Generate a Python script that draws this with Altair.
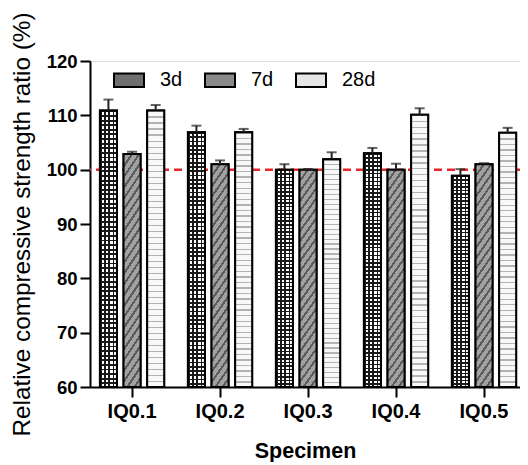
import altair as alt
import pandas as pd

specimens = ["IQ0.1", "IQ0.2", "IQ0.3", "IQ0.4", "IQ0.5"]
ages = ["3d", "7d", "28d"]
ratio_3d = [110.9, 106.9, 100.0, 103.0, 98.9]
ratio_7d = [102.9, 101.0, 100.0, 100.0, 101.0]
ratio_28d = [110.9, 106.9, 101.9, 110.1, 106.8]
err_3d = [2.0, 1.2, 1.0, 1.0, 1.2]
err_7d = [0.4, 0.7, 0.1, 1.1, 0.2]
err_28d = [1.0, 0.6, 1.3, 1.2, 0.9]
reference_level = [100]

rows = []
for age, vals, errs in [("3d", ratio_3d, err_3d), ("7d", ratio_7d, err_7d), ("28d", ratio_28d, err_28d)]:
    for s, v, e in zip(specimens, vals, errs):
        rows.append({"Specimen": s, "Age": age, "ratio": v, "top": v + e})
df = pd.DataFrame(rows)
ref_df = pd.DataFrame({"y": reference_level})

FONT = "Liberation Sans"


def stripes(n, frac, color_a, color_b, x2, y2):
    """Hard-edged repeating linear gradient used as a fill texture."""
    stops = []
    for k in range(n):
        s = k / n
        m = (k + frac) / n
        e = (k + 1) / n
        stops += [
            {"offset": round(s, 5), "color": color_a},
            {"offset": round(m, 5), "color": color_a},
            {"offset": round(m, 5), "color": color_b},
            {"offset": round(min(e, 1.0), 5), "color": color_b},
        ]
    return {"gradient": "linear", "x1": 0, "y1": 0, "x2": x2, "y2": y2, "stops": stops}


# bar textures
tex_3d_rows = stripes(60, 0.42, "#1a1a1a", "#ffffff", 0, 1)
tex_3d_cols = stripes(4, 0.40, "#1a1a1a", "rgba(0,0,0,0)", 1, 0)
tex_7d = stripes(24, 0.35, "#5c5c5c", "#a2a2a2", 0.1197, 1.0956)
tex_28d = stripes(46, 0.24, "#b3b3b3", "#f8f8f8", 0, 1)

x_enc = alt.X("Specimen:N", sort=specimens,
              scale=alt.Scale(paddingInner=0.27, paddingOuter=0.0784, align=0.72),
              axis=alt.Axis(title="Specimen", labelAngle=0, labelFontSize=20,
                            labelFontWeight="bold", titleFontSize=21.5,
                            titleFontWeight="bold", titlePadding=19,
                            labelPadding=4, tickSize=10, tickWidth=2,
                            domainWidth=2, domainColor="black", tickColor="black",
                            labelColor="black", titleColor="black",
                            labelFont=FONT, titleFont=FONT))
xoff = alt.XOffset("Age:N", sort=ages, scale=alt.Scale(paddingInner=0.28, paddingOuter=0))

y_scale = alt.Scale(domain=[60, 120], nice=False, zero=False)
y_axis = alt.Axis(title="Relative compressive strength ratio (%)", values=[60, 70, 80, 90, 100, 110, 120],
                  labelFontSize=18.5, labelFontWeight="bold", titleFontSize=24.3,
                  titleFontWeight="normal", titlePadding=12, labelPadding=3,
                  tickSize=10, tickWidth=2, domainWidth=2, domainColor="black",
                  tickColor="black", labelColor="black", titleColor="black",
                  grid=False, labelFont=FONT, titleFont=FONT)
y_bar = alt.Y("ratio:Q", scale=y_scale, axis=y_axis)

refline = alt.Chart(ref_df).mark_rule(color="#e8262b", strokeWidth=2.5, strokeDash=[8, 5]).encode(
    y=alt.Y("y:Q", scale=y_scale, axis=y_axis)
)

legend = alt.Legend(
    title=None, orient="none", legendX=23, legendY=3, direction="horizontal",
    symbolType="M-1,-0.45L1,-0.45L1,0.45L-1,0.45Z", symbolSize=900,
    symbolStrokeColor="black", symbolStrokeWidth=2, labelFontSize=20,
    labelFont=FONT, labelColor="black", labelOffset=15, columnPadding=18, padding=0,
)

bars = alt.Chart(df).mark_bar(stroke="black", strokeWidth=2, clip=True).encode(
    x=x_enc,
    xOffset=xoff,
    y=y_bar,
    y2=alt.datum(60),
    fill=alt.Fill("Age:N", sort=ages,
                  scale=alt.Scale(domain=ages, range=["#6e6e6e", "#8a8a8a", "#e6e6e6"]),
                  legend=legend),
)


def texture(age, grad):
    return alt.Chart(df).transform_filter(alt.datum.Age == age).mark_bar(
        clip=True, strokeWidth=0).encode(
        x=x_enc, xOffset=xoff, y=y_bar, y2=alt.datum(60), fill=alt.value(grad))


tex_layers = [texture("3d", tex_3d_rows), texture("3d", tex_3d_cols),
              texture("7d", tex_7d), texture("28d", tex_28d)]

outline = alt.Chart(df).mark_bar(stroke="black", strokeWidth=2, fillOpacity=0, clip=True).encode(
    x=x_enc, xOffset=xoff, y=y_bar, y2=alt.datum(60))

err_rule = alt.Chart(df).mark_rule(color="#222222", strokeWidth=2).encode(
    x=x_enc, xOffset=xoff,
    y=y_bar,
    y2="top:Q",
)
err_cap = alt.Chart(df).mark_tick(color="#222222", thickness=2, size=10, orient="horizontal").encode(
    x=x_enc, xOffset=xoff,
    y=alt.Y("top:Q", scale=y_scale, axis=y_axis),
)

chart = alt.layer(refline, bars, *tex_layers, outline, err_rule, err_cap).properties(
    width=430, height=326,
    autosize=alt.AutoSizeParams(type="none"),
    padding={"left": 82, "top": 53, "right": 0, "bottom": 75},
).configure_view(stroke=None).configure(background="white")

chart.save("out.html", embed_options={"renderer": "svg", "actions": False})
